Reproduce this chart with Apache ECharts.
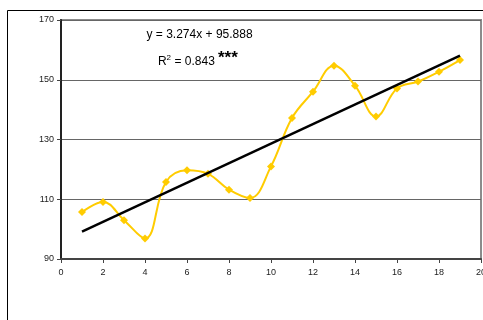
<!DOCTYPE html>
<html>
<head>
<meta charset="utf-8">
<script src="https://cdn.jsdelivr.net/npm/echarts@6/dist/echarts.min.js"></script>
<style>
html,body{margin:0;padding:0;background:#fff;}
#c{width:483px;height:320px;}
</style>
</head>
<body>
<div id="c"></div>
<script>
var xValues = [1,2,3,4,5,6,7,8,9,10,11,12,13,14,15,16,17,18,19];
var yValues = [105.7,109.1,103,96.9,115.8,119.7,118.5,113.2,110.4,121,137.2,146,154.7,148,137.7,147.1,149.4,152.7,156.6];
var trendPoints = [[1,99.2],[19,158.1]];
var xTicks = {min:0, max:20, interval:2};
var yTicks = {min:90, max:170, interval:20};
var equationText = 'y = 3.274x + 95.888';
var r2Text = '= 0.843';

var chart = echarts.init(document.getElementById('c'), null, {renderer:'canvas'});
var font = 'Liberation Sans, Arial, sans-serif';
chart.setOption({
  animation:false,
  backgroundColor:'#fff',
  grid:{left:61,top:20,right:2,bottom:61,containLabel:false,outerBoundsMode:'none',show:true,borderColor:'#8c8c8c',borderWidth:2,backgroundColor:'transparent'},
  xAxis:{type:'value',min:xTicks.min,max:xTicks.max,interval:xTicks.interval,
    axisLine:{show:true,onZero:false,lineStyle:{color:'#444',width:2}},
    axisTick:{show:true,length:4,lineStyle:{color:'#444',width:1}},
    axisLabel:{color:'#222',fontSize:9,fontFamily:font,margin:9},
    splitLine:{show:false}},
  yAxis:{type:'value',min:yTicks.min,max:yTicks.max,interval:yTicks.interval,
    axisLine:{show:true,onZero:false,lineStyle:{color:'#222',width:2}},
    axisTick:{show:true,length:4,lineStyle:{color:'#444',width:1}},
    axisLabel:{color:'#222',fontSize:9,fontFamily:font,margin:7},
    splitLine:{show:true,lineStyle:{color:'#666',width:1}}},
  series:[
    {type:'line',data:xValues.map(function(x,i){return [x,yValues[i]];}),
     smooth:0.4,symbol:'diamond',symbolSize:8,
     lineStyle:{color:'#FFCC00',width:2},itemStyle:{color:'#FFCC00'},z:2},
    {type:'line',data:trendPoints,symbol:'none',
     lineStyle:{color:'#000',width:2.5},z:3}
  ],
  graphic:[
    {type:'rect',shape:{x:7.5,y:10.5,width:600,height:400},style:{fill:'none',stroke:'#000',lineWidth:1},z:-1,silent:true},
    {type:'text',x:146.5,y:28.5,style:{text:equationText,font:'12px '+font,fill:'#000'}},
    {type:'text',x:158,y:55.5,style:{text:'R',font:'12px '+font,fill:'#000'}},
    {type:'text',x:166.5,y:53.5,style:{text:'2',font:'8px '+font,fill:'#000'}},
    {type:'text',x:174.5,y:55.5,style:{text:r2Text,font:'12px '+font,fill:'#000'}},
    {type:'text',x:218,y:49.5,style:{text:'***',font:'bold 17px '+font,fill:'#000'}}
  ]
});
</script>
</body>
</html>
